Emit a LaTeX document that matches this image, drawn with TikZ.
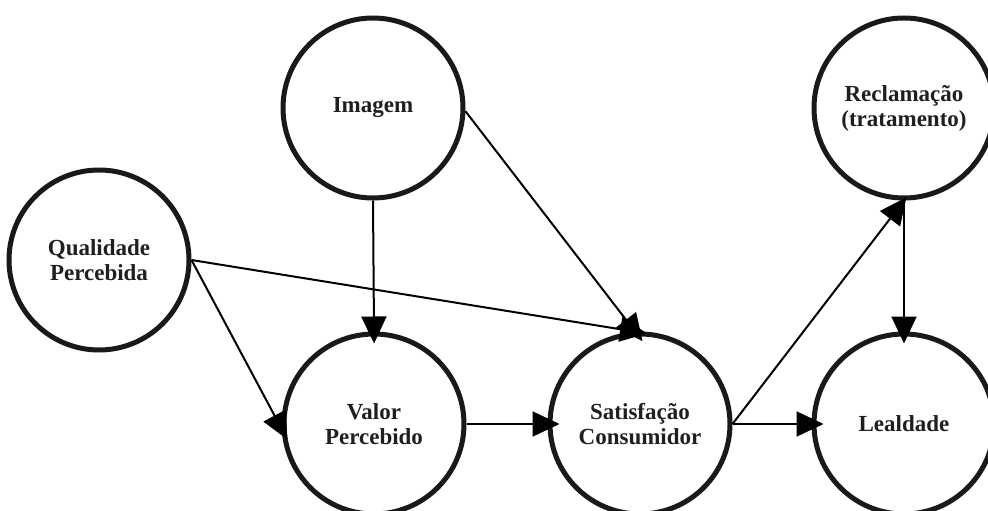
\documentclass[tikz,border=0pt]{standalone}
\usepackage{fontspec}
\setmainfont{Liberation Serif}
\usetikzlibrary{arrows.meta}
\begin{document}
\begin{tikzpicture}[x=1pt,y=-1pt,
  construct/.style={circle,draw=black!90,line width=5pt,minimum size=180pt,inner sep=0pt,
    font=\fontsize{23}{25}\selectfont\bfseries,align=center,text=black!88},
  link/.style={line width=2pt,shorten >=-12pt,-{Triangle[length=27pt,width=25pt]}}]
\useasboundingbox (0,0) rectangle (988,511);
\node[construct] (img) at (373,108) {Imagem};
\node[construct] (qual) at (99,260) {Qualidade\\Percebida};
\node[construct] (val) at (374,424) {Valor\\Percebido};
\node[construct] (sat) at (640,424) {Satisfação\\Consumidor};
\node[construct] (leal) at (904,424) {Lealdade};
\node[construct] (recl) at (904,108) {Reclamação\\(tratamento)};
\draw[link] (img.south) -- (val.north);
\draw[link] (img.-2) -- (sat.93);
\draw[link] (qual.east) -- (sat.93);
\draw[link] (qual.east) -- (val.183);
\draw[link] (val.east) -- (sat.west);
\draw[link] (sat.east) -- (leal.west);
\draw[link,shorten >=-4pt] (sat.east) -- (recl.south);
\draw[link] (recl.south) -- (leal.north);
\end{tikzpicture}
\end{document}
